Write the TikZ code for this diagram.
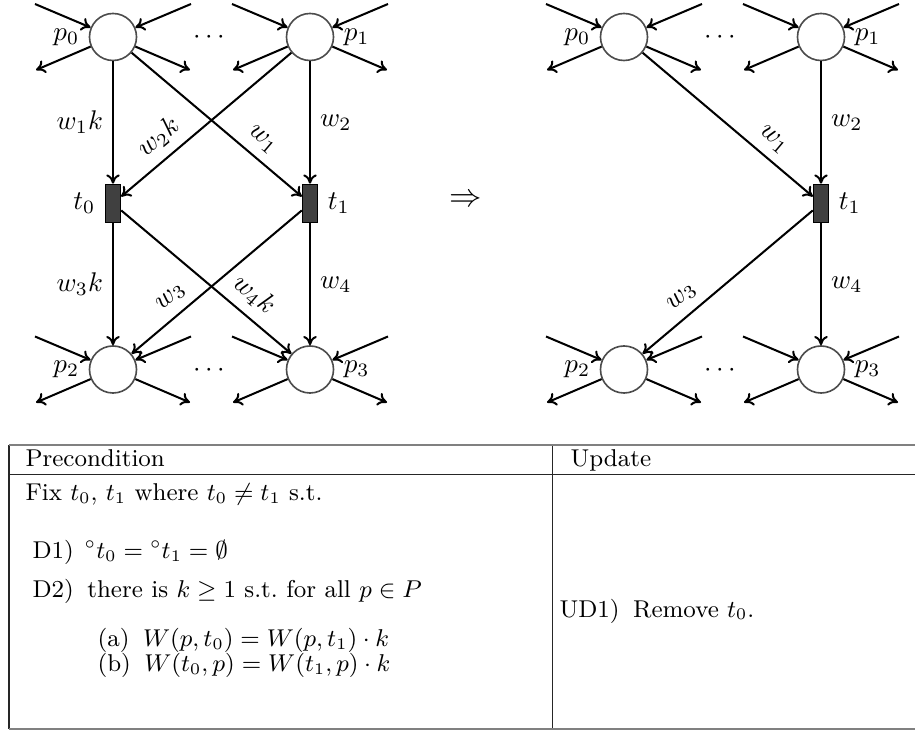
\documentclass[tikz,border=0pt]{standalone}
\usetikzlibrary{arrows.meta}
\begin{document}
\begin{tikzpicture}[x=0.37pt,y=-0.37pt,
  place/.style={circle,draw=black!70,line width=0.6pt,fill=white,minimum size=17.4pt,inner sep=0pt},
  trans/.style={rectangle,draw=black,fill=black!75,line width=0.5pt,minimum width=5.6pt,minimum height=14.2pt,inner sep=0pt},
  arc/.style={-{To[length=3.4pt,width=5pt]},line width=0.75pt},
  lbl/.style={font=\fontsize{10}{12}\selectfont},
  tabtxt/.style={anchor=base west,inner sep=0pt,font=\fontsize{9}{11}\selectfont},
  toprule/.style={draw=black!50,line width=0.8pt},
  midrule/.style={draw=black!85,line width=0.55pt},
  vrule/.style={draw=black!85,line width=0.45pt}]
\useasboundingbox (0,0) rectangle (915,733);

% ---------- left net ----------
\node[place,label=left:{$p_0$}] (p0) at (113,37) {};
\node[place,label=right:{$p_1$}] (p1) at (310,37) {};
\node[trans,label=left:{$t_0$}] (t0) at (113,203.5) {};
\node[trans,label=right:{$t_1$}] (t1) at (310,203.5) {};
\node[place,label=left:{$p_2$}] (p2) at (113,369.5) {};
\node[place,label=right:{$p_3$}] (p3) at (310,369.5) {};
\node (dl0) at (209,38) {$\cdots$};
\node (dl1) at (209,370) {$\cdots$};

\draw[arc] (p0) -- node[lbl,left] {$w_1k$} (t0);
\draw[arc] (p1) -- node[lbl,sloped,above,pos=0.7] {$w_2k$} (t0);
\draw[arc] (p0) -- node[lbl,sloped,above,pos=0.7] {$w_1$} (t1);
\draw[arc] (p1) -- node[lbl,right] {$w_2$} (t1);
\draw[arc] (t0) -- node[lbl,left] {$w_3k$} (p2);
\draw[arc] (t1) -- node[lbl,sloped,above,pos=0.7] {$w_3$} (p2);
\draw[arc] (t0) -- node[lbl,sloped,above,pos=0.7] {$w_4k$} (p3);
\draw[arc] (t1) -- node[lbl,right] {$w_4$} (p3);

% ---------- arrow ----------
\node[font=\fontsize{12.5}{14}\selectfont] (impl) at (466,201) {$\Rightarrow$};

% ---------- right net ----------
\node[place,label=left:{$p_0$}] (q0) at (624,37) {};
\node[place,label=right:{$p_1$}] (q1) at (821,37) {};
\node[trans,label=right:{$t_1$}] (u1) at (821,203.5) {};
\node[place,label=left:{$p_2$}] (q2) at (624,369.5) {};
\node[place,label=right:{$p_3$}] (q3) at (821,369.5) {};
\node (dr0) at (720,38) {$\cdots$};
\node (dr1) at (720,370) {$\cdots$};

\draw[arc] (q0) -- node[lbl,sloped,above,pos=0.7] {$w_1$} (u1);
\draw[arc] (q1) -- node[lbl,right] {$w_2$} (u1);
\draw[arc] (u1) -- node[lbl,sloped,above,pos=0.7] {$w_3$} (q2);
\draw[arc] (u1) -- node[lbl,right] {$w_4$} (q3);

% ---------- stubs ----------
\foreach \n in {p0,p1,p2,p3,q0,q1,q2,q3}{
  \path (\n) ++(-78,-33) coordinate (\n-il);
  \path (\n) ++(78,-33) coordinate (\n-ir);
  \path (\n) ++(-77,33) coordinate (\n-ol);
  \path (\n) ++(77,33) coordinate (\n-or);
  \draw[arc] (\n-il) -- (\n);
  \draw[arc] (\n-ir) -- (\n);
  \draw[arc] (\n) -- (\n-ol);
  \draw[arc] (\n) -- (\n-or);
}

% ---------- table ----------
\draw[vrule] (9,445) -- (9,729);
\draw[vrule] (552.5,445) -- (552.5,729);
\draw[toprule] (9,445) -- (915,445);
\draw[midrule] (9,474.5) -- (915,474.5);
\draw[toprule] (9,729) -- (915,729);

\node[tabtxt] (hpre) at (25,467) {Precondition};
\node[tabtxt] (hupd) at (570,466.5) {Update};
\node[tabtxt] (fix) at (25,501) {Fix $t_0$, $t_1$ where $t_0\neq t_1$ s.t.};
\node[tabtxt] (d1) at (32,559) {D1)\hspace{4pt}${}^\circ t_0 = {}^\circ t_1 = \emptyset$};
\node[tabtxt] (d2) at (32,597) {D2)\hspace{5pt}there is $k\geq 1$ s.t.\ for all $p\in P$};
\node[tabtxt] (da) at (97,646.5) {(a)\hspace{5pt}$W(p,t_0)=W(p,t_1)\cdot k$};
\node[tabtxt] (db) at (97,671.5) {(b)\hspace{5pt}$W(t_0,p)=W(t_1,p)\cdot k$};
\node[tabtxt] (ud1) at (559,617) {UD1)\hspace{5pt}Remove $t_0$.};
\end{tikzpicture}
\end{document}
